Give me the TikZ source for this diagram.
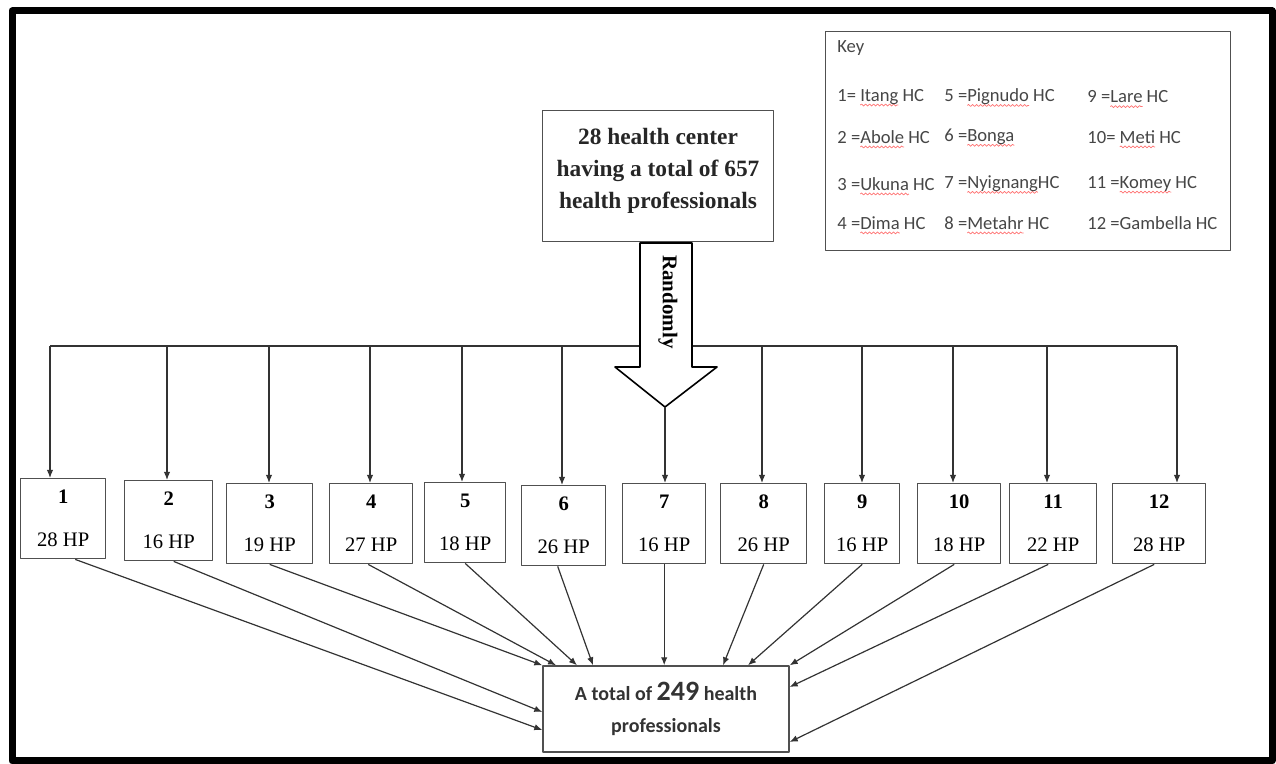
\documentclass[tikz,border=0pt]{standalone}
\usepackage{fontspec}
\setmainfont{Liberation Serif}
\newfontfamily\calib{Carlito}
\usetikzlibrary{arrows.meta,calc,decorations.pathmorphing}
\definecolor{keytext}{RGB}{70,70,70}
\definecolor{boxline}{RGB}{80,80,80}
\newcommand\spellchk[1]{\setbox0\hbox{#1}\rlap{\tikz[overlay]\draw[red!55,line width=0.35pt,decorate,
	decoration={snake,amplitude=0.5pt,segment length=2pt}] (0pt,-1.8pt) -- (\wd0,-1.8pt);}\box0\relax}

\begin{document}
\begin{tikzpicture}[x=0.5pt,y=-0.5pt,>={Latex[length=4pt,width=3.2pt]},line join=round,
	hpbox/.style={draw=boxline,line width=0.7pt,anchor=north west,minimum height=40pt,inner sep=0pt,align=center,font=\fontsize{10.3}{12}\selectfont},
	link/.style={->,draw=black!80,line width=0.6pt},
	keyitem/.style={anchor=west,inner sep=0pt,text=keytext,font=\calib\fontsize{9.3}{11}\selectfont}]
	\useasboundingbox (0,0) rectangle (1276,764);
	\draw[line width=3.5pt] (12,11) rectangle (1272,761);
	% key
	\node[draw=boxline,line width=0.7pt,anchor=north west,minimum width=202.5pt,minimum height=109.5pt] (key) at (825,31) {};
	\node[keyitem] (keytitle) at (837,48) {Key};
	\foreach \i/\x/\y/\t in {1/837/97/{1= \spellchk{Itang} HC},2/837/137/{2 =\spellchk{Abole} HC},
		3/837/184/{3 =\spellchk{Ukuna} HC},4/837/223/{4 =\spellchk{Dima} HC},
		5/944/97/{5 =\spellchk{Pignudo} HC},6/944/137/{6 =\spellchk{Bonga}},
		7/944/184/{7 =\spellchk{Nyignang}HC},8/944/223/{8 =\spellchk{Metahr} HC},
		9/1087/97/{9 =\spellchk{Lare} HC},10/1087/137/{10= \spellchk{Meti} HC},
		11/1087/184/{11 =\spellchk{Komey} HC},12/1087/223/{12 =Gambella HC}}
	\node[keyitem] (k\i) at (\x,\y) {\t};
	% population
	\node[draw=boxline,line width=0.7pt,minimum width=115.5pt,minimum height=65.5pt,align=center,text=black!85,
	font=\bfseries\fontsize{11.7}{16}\selectfont] (pop) at (658,176) {28 health center\\having a total of 657\\health professionals\\[-8pt]\mbox{}};
	% health centers
	\foreach \n/\xl/\xr/\yt/\hp/\ax in {1/20/105/478/28/50,2/124/212/480/16/167,3/226/312/483/19/269,
		4/329/412/483/27/370,5/424/505/482/18/462,6/521/605/485/26/562,7/622/705/483/16/662,
		8/720/806/483/26/762,9/824/899/483/16/862,10/917/1000/483/18/953,11/1009/1096/483/22/1047,
		12/1112/1205/483/28/1177}{
		\node[hpbox,minimum width={(\xr-\xl)*0.5pt}] (b\n) at (\xl,\yt) {\textbf{\n}\\[9.5pt]\hp{} HP};
		\coordinate (top\n) at (\ax,346);
	}
	\draw[line width=0.7pt,draw=black!80] (top1) -- (top12);
	\foreach \n in {1,...,6,8,9,10,11,12}
	\draw[link] (top\n) -- (top\n |- b\n.north);
	\draw[line width=0.8pt,fill=white] (640,243) -- (640,367) -- (615,367) -- (665,407) coordinate (tip)
	-- (717,367) -- (692,367) -- (692,243) -- cycle;
	\node[rotate=-90,font=\bfseries\fontsize{10.5}{12}\selectfont] (rand) at (668,302) {Randomly};
	\draw[link] (tip) -- (tip |- b7.north);
	% sample
	\node[draw=boxline,line width=0.7pt,minimum width=123pt,minimum height=43pt,align=center,text=black!80,
	font=\calib\bfseries\fontsize{10}{16}\selectfont] (total) at (666,709) {A total of {\fontsize{14}{16}\selectfont 249} health\\professionals};
	\draw[link] ($(b1.south)+(12,0)$) -- ($(total.west)+(0,21)$);
	\draw[link] ($(b2.south)+(5,0)$) -- ($(total.west)+(0,3)$);
	\draw[link] (b3.south) -- (total.north west);
	\draw[link] ($(b4.south)+(-3,0)$) -- ($(total.north)+(-110,0)$);
	\draw[link] (b5.south) -- ($(total.north)+(-89,0)$);
	\draw[link] ($(b6.south)+(-6,0)$) -- ($(total.north)+(-73,0)$);
	\draw[link] (b7.south) -- (b7.south |- total.north);
	\draw[link] (b8.south) -- ($(total.north)+(57,0)$);
	\draw[link] (b9.south) -- ($(total.north)+(82,0)$);
	\draw[link] ($(b10.south)+(-5,0)$) -- (total.north east);
	\draw[link] ($(b11.south)+(-5,0)$) -- ($(total.east)+(0,-22)$);
	\draw[link] ($(b12.south)+(-5,0)$) -- ($(total.east)+(0,33)$);
\end{tikzpicture}
\end{document}
